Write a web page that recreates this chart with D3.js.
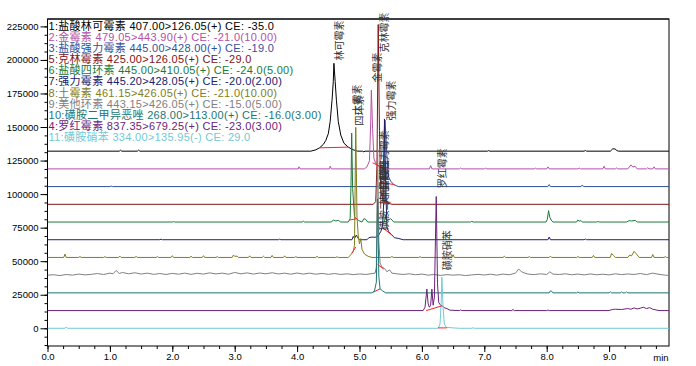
<!DOCTYPE html>
<html>
<head>
<meta charset="utf-8">
<script src="https://cdnjs.cloudflare.com/ajax/libs/d3/7.8.5/d3.min.js"></script>
<style>
  body { margin: 0; background: #fff; }
  svg text { font-family: "Liberation Sans", Arial, "Noto Sans CJK SC", sans-serif; }
</style>
</head>
<body>
<div id="chart"></div>
<script>
// ---- data (legend order) ----
var legendText = [
  "1:盐酸林可霉素 407.00>126.05(+) CE: -35.0",
  "2:金霉素 479.05>443.90(+) CE: -21.0(10.00)",
  "3:盐酸强力霉素 445.00>428.00(+) CE: -19.0",
  "5:克林霉素 425.00>126.05(+) CE: -29.0",
  "6:盐酸四环素 445.00>410.05(+) CE: -24.0(5.00)",
  "7:强力霉素 445.20>428.05(+) CE: -20.0(2.00)",
  "8:土霉素 461.15>426.05(+) CE: -21.0(10.00)",
  "9:美他环素 443.15>426.05(+) CE: -15.0(5.00)",
  "10:磺胺二甲异恶唑 268.00>113.00(+) CE: -16.0(3.00)",
  "4:罗红霉素 837.35>679.25(+) CE: -23.0(3.00)",
  "11:磺胺硝苯 334.00>135.95(-) CE: 29.0"
];
var traceColors = ["#000000", "#b550a8", "#34509c", "#7f1416", "#1d7a3a", "#202068",
                   "#807d1c", "#808080", "#1d7575", "#6a2378", "#72c9d6"];
var baselines = [132000, 118800, 105600, 92400, 79200, 66000, 52800, 39600, 26400, 13200, 0];

var lincomycin = [[0,0],[1.15,0],[1.17,700],[1.19,0],[1.44,0],[1.46,800],[1.48,0],[4.22,0],[4.30,1000],[4.36,2500],
  [4.42,5000],[4.46,8000],[4.50,13000],[4.53,22000],[4.56,38000],[4.58,52000],[4.59,65500],[4.61,52000],[4.63,38000],
  [4.66,22000],[4.70,12000],[4.75,6000],[4.82,3000],[4.90,1000],[4.97,0],[5.05,0],[5.07,-500],[5.09,0],[7.05,0],
  [7.07,400],[7.09,0],[8.6,0],[8.62,500],[8.64,0],[9.02,0],[9.06,1800],[9.10,1600],[9.12,500],[9.15,0],[9.96,0]];
var chlortetracycline = [[0,0],[4.02,0],[4.03,1600],[4.05,0],[4.52,0],[4.53,2000],[4.55,0],[5.08,0],[5.12,1500],
  [5.16,6000],[5.18,35000],[5.19,58600],[5.21,30000],[5.23,8000],[5.26,4000],[5.32,1500],[5.38,0],[6.12,0],[6.14,2500],
  [6.16,0],[6.6,0],[6.62,600],[6.64,0],[7.0,0],[7.02,500],[7.04,0],[7.8,0],[7.82,500],[7.84,0],[8.0,0],[8.02,1500],
  [8.04,0],[8.5,0],[8.52,700],[8.54,0],[8.9,0],[8.92,2000],[8.94,0],[9.1,0],[9.12,700],[9.14,0],[9.3,0],[9.35,3000],
  [9.38,1500],[9.42,1800],[9.45,0],[9.6,0],[9.62,800],[9.64,0],[9.7,0],[9.72,1500],[9.74,0],[9.96,0]];
var doxycyclineHcl = [[0,0],[1.0,0],[1.02,400],[1.04,0],[5.30,0],[5.35,2500],[5.38,12000],[5.40,45000],[5.41,49500],
  [5.43,30000],[5.46,8000],[5.50,4000],[5.55,1500],[5.62,0],[8.02,0],[8.04,1500],[8.06,0],[8.55,0],[8.57,1200],
  [8.59,0],[9.96,0]];
var clindamycin = [[0,0],[5.22,0],[5.26,2000],[5.28,30000],[5.30,134000],[5.32,55000],[5.34,10000],[5.38,3000],
  [5.44,1000],[5.52,0],[9.96,0]];
var tetracyclineHcl = [[0,0],[2.0,0],[2.02,300],[2.04,0],[4.08,0],[4.10,600],[4.12,0],[4.55,0],[4.58,1500],[4.62,800],
  [4.66,1200],[4.70,0],[4.82,0],[4.85,2500],[4.865,30000],[4.875,66300],[4.89,25000],[4.92,4000],[4.95,2500],[4.99,1000],
  [5.04,0],[5.07,2500],[5.10,2000],[5.13,0],[5.40,0],[5.42,5000],[5.44,1000],[5.50,2500],[5.55,0],[6.78,0],[6.80,500],
  [6.82,0],[7.99,0],[8.01,2000],[8.03,8500],[8.05,3500],[8.07,1500],[8.10,0],[8.48,0],[8.50,1500],[8.52,600],
  [8.55,1000],[8.57,0],[8.8,0],[8.82,400],[8.84,0],[9.28,0],[9.32,1000],[9.36,800],[9.42,1200],[9.45,0],[9.96,0]];
var doxycycline = [[0,0],[1.8,0],[1.82,400],[1.84,0],[3.7,0],[3.72,400],[3.74,0],[4.88,0],[4.90,2500],[4.92,1000],
  [4.95,3500],[4.97,1500],[5.0,0],[5.12,0],[5.15,1500],[5.20,2000],[5.25,1800],[5.30,3000],[5.34,6000],[5.37,10000],
  [5.39,30000],[5.40,90000],[5.42,40000],[5.44,9000],[5.47,6000],[5.52,3500],[5.56,1500],[5.62,1000],[5.7,0],
  [8.02,0],[8.04,2000],[8.06,0],[8.6,0],[8.62,500],[8.64,0],[9.96,0]];
var oxytetracycline = [[0,0],[0.26,0],[0.28,2500],[0.30,0],[0.5,0],[0.52,700],[0.54,0],[0.9,0],[0.92,600],[0.94,0],
  [1.14,0],[1.16,1000],[1.18,0],[1.4,0],[1.42,800],[1.44,0],[1.74,0],[1.76,600],[1.78,0],[1.98,0],[2.0,1300],[2.02,0],
  [2.28,0],[2.30,900],[2.32,0],[2.48,0],[2.50,1300],[2.52,0],[2.7,0],[2.72,600],[2.74,0],[2.96,0],[2.98,1800],
  [3.0,800],[3.04,1000],[3.06,0],[3.22,0],[3.24,1200],[3.26,0],[3.44,0],[3.46,900],[3.48,0],[3.58,0],[3.60,1500],
  [3.62,0],[3.78,0],[3.80,1200],[3.82,0],[3.96,0],[3.98,600],[4.0,0],[4.3,0],[4.32,800],[4.34,0],[4.62,0],[4.64,500],
  [4.66,0],[4.82,0],[4.86,2000],[4.90,4500],[4.92,9000],[4.94,97000],[4.96,30000],[4.98,16000],[5.00,10000],
  [5.02,14000],[5.04,6000],[5.08,2500],[5.14,800],[5.2,0],[5.5,0],[5.52,800],[5.54,0],[5.95,0],[5.97,600],[5.99,0],
  [6.48,0],[6.50,2000],[6.52,0],[7.3,0],[7.32,900],[7.34,0],[7.7,0],[7.72,600],[7.74,0],[8.04,0],[8.06,1000],[8.08,0],
  [8.48,0],[8.50,700],[8.52,0],[8.73,0],[8.75,1500],[8.77,0],[9.02,0],[9.04,3000],[9.07,1500],[9.10,0],[9.3,0],
  [9.33,1800],[9.36,1200],[9.40,4500],[9.44,2500],[9.48,0],[9.68,0],[9.70,2200],[9.72,0],[9.88,0],[9.90,600],
  [9.92,0],[9.96,0]];
var methacycline = [[0,0],[0.1,300],[0.2,-300],[0.3,500],[0.4,0],[0.5,800],[0.6,200],[0.7,600],[0.8,1200],[0.9,500],
  [1.0,1500],[1.05,1000],[1.1,3500],[1.15,1200],[1.2,2000],[1.3,1000],[1.4,1800],[1.5,800],[1.6,1500],[1.7,600],
  [1.8,1200],[1.9,500],[2.0,1300],[2.1,700],[2.2,1500],[2.3,600],[2.4,1400],[2.5,800],[2.6,1700],[2.7,900],[2.8,1500],
  [2.9,700],[3.0,2000],[3.1,1000],[3.2,1700],[3.3,800],[3.4,1600],[3.5,1000],[3.6,1800],[3.7,900],[3.8,1500],[3.9,700],
  [4.0,1600],[4.1,800],[4.2,1500],[4.3,700],[4.4,1300],[4.5,600],[4.6,1200],[4.7,500],[4.8,1000],[4.9,400],[5.0,900],
  [5.1,500],[5.2,1200],[5.25,1500],[5.27,6000],[5.29,94000],[5.31,25000],[5.33,9000],[5.36,6000],[5.40,5000],
  [5.44,2500],[5.48,4000],[5.52,1500],[5.6,1000],[5.7,500],[5.8,1000],[5.9,300],[6.0,800],[6.1,0],[6.2,500],[6.3,-200],
  [6.4,400],[6.5,0],[6.6,300],[6.7,-300],[6.8,200],[6.9,600],[7.0,100],[7.1,700],[7.2,0],[7.3,800],[7.4,300],
  [7.5,1500],[7.55,4500],[7.6,2500],[7.65,1500],[7.7,800],[7.8,400],[7.9,1000],[8.0,500],[8.05,2500],[8.1,800],
  [8.2,500],[8.3,1000],[8.4,300],[8.5,800],[8.6,200],[8.7,900],[8.8,300],[8.9,700],[9.0,200],[9.1,1000],[9.2,400],
  [9.3,900],[9.4,500],[9.5,1200],[9.6,400],[9.7,1500],[9.8,600],[9.9,0],[9.96,-200]];
var sulfamethoxazole = [[0,0],[5.20,0],[5.24,1500],[5.27,8000],[5.29,70000],[5.31,12000],[5.33,3000],[5.37,1500],
  [5.42,0],[8.04,0],[8.06,1500],[8.08,1200],[8.10,0],[8.48,0],[8.50,700],[8.52,0],[9.0,0],[9.02,800],[9.04,0],
  [9.18,0],[9.20,700],[9.22,0],[9.26,0],[9.28,700],[9.30,0],[9.96,0]];
var roxithromycin = [[0,0],[6.02,0],[6.05,2500],[6.08,16000],[6.10,5000],[6.12,2500],[6.14,4000],[6.16,16000],
  [6.18,4000],[6.20,10000],[6.23,85000],[6.25,20000],[6.27,6000],[6.30,4000],[6.33,3500],[6.36,2000],[6.40,1500],
  [6.45,300],[6.6,0],[6.62,500],[6.64,0],[7.44,0],[7.46,800],[7.48,0],[8.0,0],[8.02,400],[8.04,0],[9.0,0],[9.05,800],
  [9.1,1000],[9.2,800],[9.3,1500],[9.35,1000],[9.4,2000],[9.45,1200],[9.5,1800],[9.55,2500],[9.6,1500],[9.65,2200],
  [9.7,1000],[9.75,500],[9.8,0],[9.96,0]];
var sulfanitran = [[0,0],[0.28,0],[0.30,1000],[0.32,0],[6.26,0],[6.29,3000],[6.31,20000],[6.32,38000],[6.34,15000],
  [6.36,3000],[6.39,700],[6.5,300],[6.6,0],[6.8,0],[6.82,400],[6.84,0],[9.96,0]];

var traces = [lincomycin, chlortetracycline, doxycyclineHcl, clindamycin, tetracyclineHcl, doxycycline,
              oxytetracycline, methacycline, sulfamethoxazole, roxithromycin, sulfanitran];

// integration baselines: [trace, t1, v1, t2, v2]
var integrations = [[0,4.36,2500,4.82,3000],[1,5.21,4500,5.37,1000],[2,5.34,3000,5.56,1500],[3,5.33,1500,5.50,1500],
  [4,4.84,1500,4.96,2500],[5,5.34,10000,5.52,3500],[6,4.88,3300,4.94,7800],[7,5.29,8000,5.39,4500],
  [8,5.22,500,5.33,3000],[9,6.07,0,6.32,3500],[10,6.26,300,6.40,300]];

// peak names: [text, time, signal at label foot]
var peakLabels = [["林可霉素",4.67,199500],["四环素",4.98,151200],["土霉素",4.95,159400],["金霉素",5.27,183200],
  ["克林霉素",5.39,205500],["强力霉素",5.49,154900],["盐酸强力霉素",5.38,102800],["美他环素",5.39,91700],
  ["磺胺二甲异恶唑",5.39,73100],["罗红霉素",6.31,104300],["磺胺硝苯",6.40,43300]];

var xTicks = [0,1,2,3,4,5,6,7,8,9];
var yTicks = [0,25000,50000,75000,100000,125000,150000,175000,200000,225000];

// ---- layout ----
var svgW = 696, svgH = 366;
var plotL = 47.5, plotR = 669, plotT = 19, plotB = 346;

var svg = d3.select("#chart").append("svg")
  .attr("width", svgW)
  .attr("height", svgH);

var x = d3.scaleLinear().domain([0, 9.96]).range([plotL, plotR]);
var y = d3.scaleLinear().domain([-13200, 230500]).range([plotB, plotT]);

svg.append("clipPath").attr("id", "clip")
  .append("rect").attr("x", plotL).attr("y", plotT).attr("width", plotR - plotL).attr("height", plotB - plotT);

// frame
svg.append("rect")
  .attr("x", plotL).attr("y", plotT)
  .attr("width", plotR - plotL).attr("height", plotB - plotT)
  .attr("fill", "none").attr("stroke", "#000").attr("stroke-width", 1);

// y axis
var yMinor = d3.range(-12500, 230000, 6250);
var yAxis = svg.append("g").attr("transform", "translate(" + plotL + ",0)");
yAxis.call(d3.axisLeft(y).tickValues(yMinor).tickSize(3).tickFormat(""));
yAxis.select(".domain").remove();
var yMajor = svg.append("g").attr("transform", "translate(" + plotL + ",0)")
  .call(d3.axisLeft(y).tickValues(yTicks).tickSize(7).tickPadding(2).tickFormat(d3.format("d")));
yMajor.select(".domain").remove();
yMajor.selectAll("text").attr("font-size", 9.5).attr("fill", "#000");

// x axis
var xMinor = d3.range(0, 9.8, 0.25);
var xAxisG = svg.append("g").attr("transform", "translate(0," + plotB + ")");
xAxisG.call(d3.axisBottom(x).tickValues(xMinor).tickSize(3).tickFormat(""));
xAxisG.select(".domain").remove();
var xMajor = svg.append("g").attr("transform", "translate(0," + plotB + ")")
  .call(d3.axisBottom(x).tickValues(xTicks).tickSize(6).tickPadding(1).tickFormat(d3.format(".1f")));
xMajor.select(".domain").remove();
xMajor.selectAll("text").attr("font-size", 9.5).attr("fill", "#000");
svg.append("text").attr("x", 661).attr("y", 361).attr("text-anchor", "middle")
  .attr("font-size", 9.5).text("min");

// traces
var plot = svg.append("g").attr("clip-path", "url(#clip)");
traces.forEach(function (tr, i) {
  var line = d3.line()
    .x(d => x(d[0]))
    .y(d => y(baselines[i] + d[1]));
  plot.append("path")
    .datum(tr)
    .attr("d", line)
    .attr("fill", "none")
    .attr("stroke", traceColors[i])
    .attr("stroke-width", 1);
});

// integration marks
plot.selectAll(".integ")
  .data(integrations)
  .enter().append("line")
  .attr("x1", d => x(d[1])).attr("y1", d => y(baselines[d[0]] + d[2]))
  .attr("x2", d => x(d[3])).attr("y2", d => y(baselines[d[0]] + d[4]))
  .attr("stroke", "#ff2020").attr("stroke-width", 1);

// redraw top frame line over traces
svg.append("line").attr("x1", plotL).attr("x2", plotR).attr("y1", plotT).attr("y2", plotT).attr("stroke", "#000");

// peak names
svg.selectAll(".peak")
  .data(peakLabels)
  .enter().append("text")
  .attr("transform", d => "translate(" + x(d[1]) + "," + y(d[2]) + ") rotate(-90)")
  .attr("dominant-baseline", "central")
  .attr("font-size", 10)
  .attr("fill", "#333")
  .style("font-family", "'Noto Sans CJK SC', sans-serif")
  .text(d => d[0]);

// legend
svg.selectAll(".leg")
  .data(legendText)
  .enter().append("text")
  .attr("x", 48.5)
  .attr("y", (d, i) => 25.7 + i * 11.15)
  .attr("dominant-baseline", "central")
  .attr("font-size", 11)
  .attr("letter-spacing", 0.3)
  .attr("fill", (d, i) => traceColors[i])
  .text(d => d);
</script>
</body>
</html>
